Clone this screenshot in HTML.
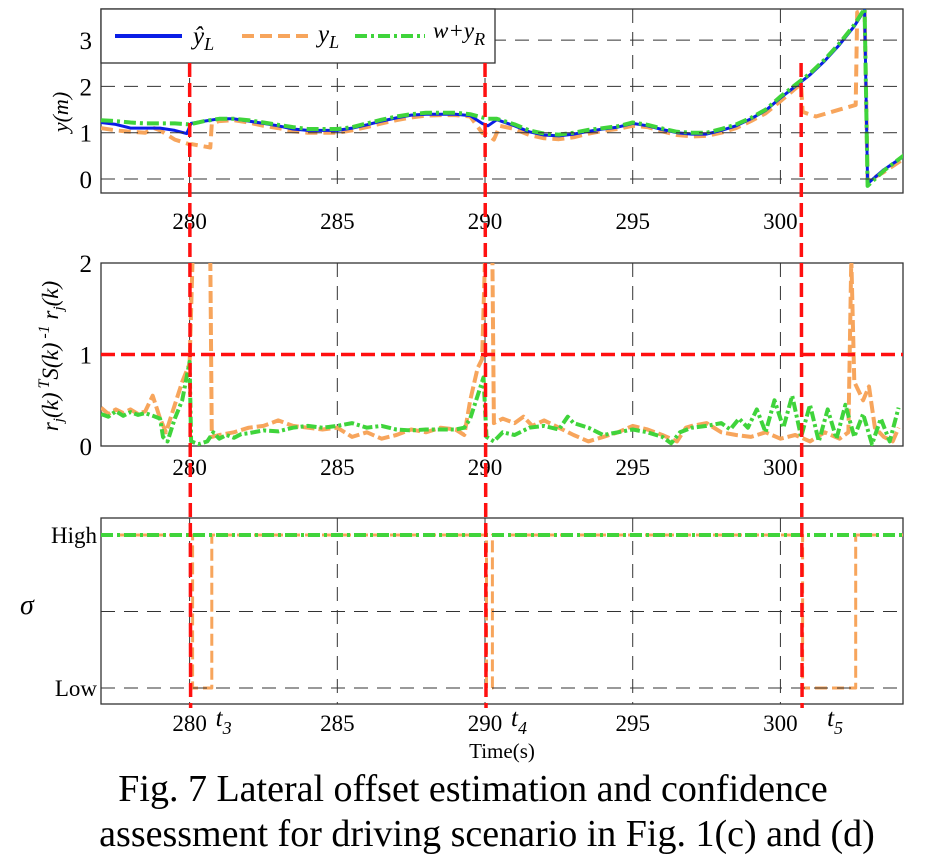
<!DOCTYPE html>
<html><head><meta charset="utf-8"><style>
body{margin:0;background:#fff}
svg text{font-family:"Liberation Serif",serif;fill:#000}
</style></head><body>
<svg id="fig" width="926" height="861" viewBox="0 0 926 861" xmlns="http://www.w3.org/2000/svg">
<defs>
<clipPath id="c1"><rect x="101" y="9" width="802" height="184"/></clipPath>
<clipPath id="c2"><rect x="101" y="263" width="802" height="183"/></clipPath>
<clipPath id="c3"><rect x="101" y="518" width="802" height="186"/></clipPath>
</defs>
<g id="p1"></g>
<g id="p2"></g>
<g id="p3"></g>
<g id="overlay"></g>
<text x="473" y="801" font-size="38" text-anchor="middle">Fig. 7 Lateral offset estimation and confidence</text>
<text x="487" y="846" font-size="38" text-anchor="middle">assessment for driving scenario in Fig. 1(c) and (d)</text>
</svg>
<script>
// ---- data ----
const xTicks=[280,285,290,295,300];
const y1Ticks=[0,1,2,3];
const y2Ticks=[0,1,2];
const eventTimes=[280,290,300.7];
const eventLabels=["3","4","5"];
// panel 1: lateral offset
const yhatT=[277,277.5,278,278.5,279,279.5,279.9,280.05,280.5,281,281.5,282,282.5,283,283.5,284,284.5,285,285.5,286,286.5,287,287.5,288,288.5,289,289.5,289.9,290.1,290.4,291,291.5,292,292.5,293,293.5,294,294.5,295,295.5,296,296.5,297,297.5,298,298.5,299,299.5,300,300.5,301,301.5,302,302.5,302.85,302.95,303.5,304.2];
const yhatV=[1.22,1.18,1.1,1.1,1.1,1.05,0.98,1.2,1.25,1.3,1.3,1.25,1.2,1.15,1.08,1.05,1.05,1.05,1.1,1.17,1.25,1.32,1.38,1.4,1.4,1.4,1.37,1.2,1.15,1.28,1.15,1.02,0.95,0.93,0.97,1.03,1.08,1.12,1.2,1.15,1.07,1.0,0.97,0.97,1.05,1.15,1.3,1.48,1.75,2.0,2.25,2.55,2.9,3.3,3.65,-0.1,0.2,0.5];
const greenT=[277,277.5,278,278.5,279,279.5,280,280.5,281,281.5,282,282.5,283,283.5,284,284.5,285,285.5,286,286.5,287,287.5,288,288.5,289,289.5,289.9,290.1,290.4,291,291.5,292,292.5,293,293.5,294,294.5,295,295.5,296,296.5,297,297.5,298,298.5,299,299.5,300,300.5,301,301.5,302,302.5,302.85,302.95,303.5,304.2];
const greenV=[1.27,1.25,1.22,1.2,1.2,1.2,1.18,1.25,1.3,1.3,1.27,1.22,1.17,1.12,1.08,1.08,1.08,1.12,1.2,1.28,1.35,1.4,1.43,1.43,1.43,1.4,1.33,1.3,1.3,1.18,1.05,0.98,0.96,1.0,1.06,1.1,1.14,1.22,1.17,1.09,1.02,1.0,1.0,1.08,1.18,1.32,1.5,1.78,2.03,2.28,2.58,2.93,3.33,3.68,-0.15,0.18,0.52];
const orangeT=[277,277.5,278,278.5,278.8,279,279.5,280,280.1,280.7,280.75,281,281.5,282,282.5,283,283.5,284,284.5,285,285.5,286,286.5,287,287.5,288,288.5,289,289.5,289.9,290.1,290.3,290.5,291,291.5,292,292.5,293,293.5,294,294.5,295,295.5,296,296.5,297,297.5,298,298.5,299,299.5,300,300.5,300.7,300.75,301.2,302,302.55,302.6,302.85,302.95,303.5,304.2];
const orangeV=[1.1,1.05,1.02,1.0,1.1,1.05,0.85,0.75,0.75,0.68,1.2,1.25,1.27,1.22,1.15,1.1,1.03,1.0,1.0,1.0,1.05,1.12,1.2,1.27,1.33,1.37,1.38,1.38,1.35,1.0,0.95,0.85,1.15,1.08,0.95,0.88,0.86,0.9,0.98,1.04,1.08,1.15,1.12,1.03,0.95,0.92,0.93,1.0,1.1,1.25,1.42,1.68,1.95,2.05,1.45,1.35,1.5,1.6,3.6,3.65,-0.05,0.15,0.45];
// panel 2: normalized innovation squared
const rgT=[277,277.25,277.5,277.75,278,278.25,278.5,278.75,279,279.1,279.25,279.5,279.75,280,280.05,280.3,280.6,280.8,281,281.25,281.5,281.75,282,282.5,283,283.5,284,284.5,285,285.5,286,286.5,287,287.5,288,288.5,289,289.3,289.5,289.75,289.95,290.05,290.3,290.6,291,291.5,292,292.5,292.8,293,293.5,294,294.5,295,295.5,296,296.3,296.6,297,297.5,298,298.3,298.6,298.9,299.2,299.5,299.8,300.1,300.4,300.7,301,301.3,301.6,301.9,302.2,302.5,302.8,303.1,303.4,303.7,304];
const rgV=[0.35,0.32,0.38,0.33,0.37,0.34,0.36,0.33,0.3,0.1,0.05,0.3,0.5,0.92,0.05,0.02,0.05,0.15,0.08,0.12,0.09,0.13,0.14,0.17,0.16,0.2,0.22,0.2,0.22,0.25,0.2,0.22,0.18,0.17,0.18,0.18,0.18,0.2,0.3,0.55,0.75,0.1,0.05,0.15,0.12,0.2,0.22,0.18,0.32,0.25,0.2,0.12,0.15,0.18,0.15,0.1,0.03,0.15,0.2,0.22,0.25,0.18,0.3,0.2,0.4,0.15,0.5,0.2,0.55,0.1,0.45,0.05,0.4,0.08,0.45,0.1,0.35,0.02,0.3,0.05,0.42];
const roT=[277,277.25,277.5,277.75,278,278.25,278.5,278.75,279,279.2,279.5,279.75,280,280.1,280.7,280.75,281,281.5,282,282.5,283,283.5,284,284.5,285,285.5,286,286.5,287,287.5,288,288.5,289,289.3,289.5,289.75,289.9,290,290.25,290.3,290.6,291,291.3,291.6,292,292.5,293,293.5,294,294.5,295,295.5,296,296.5,296.8,297,297.5,298,298.5,299,299.5,300,300.5,301,301.5,302,302.3,302.4,302.5,302.8,303,303.2,303.5,303.8,304];
const roV=[0.42,0.35,0.4,0.36,0.4,0.35,0.38,0.55,0.3,0.15,0.45,0.7,0.9,2.05,2.05,0.1,0.12,0.15,0.2,0.22,0.28,0.22,0.2,0.18,0.2,0.1,0.15,0.08,0.12,0.18,0.15,0.2,0.18,0.12,0.5,0.85,0.95,2.05,2.05,0.25,0.3,0.25,0.32,0.22,0.28,0.2,0.12,0.05,0.1,0.15,0.22,0.18,0.12,0.05,0.2,0.22,0.25,0.15,0.12,0.1,0.15,0.08,0.12,0.05,0.15,0.08,0.15,2.05,0.7,0.5,0.65,0.2,0.1,0.05,0.2];
// panel 3: confidence (1 = High, 0 = Low)
const sgT=[277,304.2];
const sgV=[1,1];
const soT=[277,280.1,280.1,280.75,280.75,290.05,290.05,290.25,290.25,300.75,300.75,302.55,302.55,304.2];
const soV=[1,1,0,0,1,1,0,0,1,1,0,0,1,1];

// ---- axes ----
const X0=101,X1=903,T0=277,T1=304.15;
const sx=t=>X0+(t-T0)*(X1-X0)/(T1-T0);
const sy1=v=>179-v*46.3;
const sy2=v=>446-v*91.5;
const sy3=v=>688-v*153;
const NS="http://www.w3.org/2000/svg";
function mk(parent,tag,attrs){const e=document.createElementNS(NS,tag);for(const k in attrs)e.setAttribute(k,attrs[k]);parent.appendChild(e);return e;}
function pts(T,V,sy){return T.map((t,i)=>sx(t).toFixed(1)+","+sy(V[i]).toFixed(1)).join(" ");}

const BLUE="#0a1ee6",ORANGE="#f7a55c",GREEN="#3fd43b",RED="#ff1010";

function panel(g,top,bot,clip){
  const fr=mk(g,'rect',{x:X0,y:top,width:X1-X0,height:bot-top,fill:'none',stroke:'#333','stroke-width':1.3});
  
  
  xTicks.forEach(t=>{
    const l=mk(g,'line',{x1:sx(t),x2:sx(t),y1:top,y2:bot,stroke:'#333','stroke-width':1,'stroke-dasharray':'14,9'});
    
    
  });
  const cg=mk(g,'g',{'clip-path':'url(#'+clip+')'});
  return cg;
}
function xLabels(g,y){
  xTicks.forEach(t=>{
    const tx=mk(g,'text',{x:sx(t),y:y,'font-size':23,'text-anchor':'middle'});tx.textContent=t;
    
    
  });
}
function series(g,T,V,sy,color,w,dash,name){
  const p=mk(g,'polyline',{points:pts(T,V,sy),fill:'none',stroke:color,'stroke-width':w,'stroke-dasharray':dash,'stroke-linejoin':'round'});
  
  
}

// panel 1
const p1=document.getElementById('p1');
const c1=panel(p1,9,193,'c1');
y1Ticks.forEach(v=>{
  const l=mk(p1,'line',{x1:X0,x2:X1,y1:sy1(v),y2:sy1(v),stroke:'#333','stroke-width':1,'stroke-dasharray':'14,9'});
  
  
  const tx=mk(p1,'text',{x:92,y:sy1(v)+9,'font-size':25,'text-anchor':'end'});tx.textContent=v;
  
  
});
series(c1,orangeT,orangeV,sy1,ORANGE,4,'12,6','series-yL');
series(c1,yhatT,yhatV,sy1,BLUE,3,'none','series-yhatL');
series(c1,greenT,greenV,sy1,GREEN,4,'12,4,3,4','series-w-plus-yR');
xLabels(p1,229);
const yl1=mk(p1,'text',{x:0,y:0,'font-size':22,'font-style':'italic',transform:'translate(68,112) rotate(-90)','text-anchor':'middle'});
yl1.textContent='y(m)';


// legend
const lg=mk(p1,'g',{});


mk(lg,'rect',{x:101,y:9,width:394,height:54,fill:'#fff',stroke:'#333','stroke-width':1.3});
mk(lg,'line',{x1:115,x2:182,y1:36,y2:36,stroke:BLUE,'stroke-width':4});
mk(lg,'line',{x1:242,x2:311,y1:36,y2:36,stroke:ORANGE,'stroke-width':4,'stroke-dasharray':'12,6'});
mk(lg,'line',{x1:355,x2:425,y1:36,y2:36,stroke:GREEN,'stroke-width':4,'stroke-dasharray':'12,4,3,4'});
const lt1=mk(lg,'text',{x:193,y:44,'font-size':25,'font-style':'italic'});lt1.innerHTML='ŷ<tspan font-size="18" dy="6">L</tspan>';


const lt2=mk(lg,'text',{x:318,y:42,'font-size':25,'font-style':'italic'});lt2.innerHTML='y<tspan font-size="18" dy="6">L</tspan>';


const lt3=mk(lg,'text',{x:433,y:38,'font-size':23,'font-style':'italic'});lt3.innerHTML='w+y<tspan font-size="18" dy="7">R</tspan>';



// panel 2
const p2=document.getElementById('p2');
const c2=panel(p2,263,446,'c2');
y2Ticks.forEach(v=>{
  const tx=mk(p2,'text',{x:92,y:sy2(v)+9,'font-size':25,'text-anchor':'end'});tx.textContent=v;
  
  
});
series(c2,roT,roV,sy2,ORANGE,4,'12,4','series-yL-nis');
series(c2,rgT,rgV,sy2,GREEN,4,'10,3,3,3','series-yR-nis');
const th=mk(p2,'line',{x1:X0,x2:X1,y1:sy2(1),y2:sy2(1),stroke:RED,'stroke-width':3.5,'stroke-dasharray':'14,6'});


xLabels(p2,475);
const yl2=mk(p2,'text',{x:0,y:0,'font-size':23,'font-style':'italic',transform:'translate(58,356) rotate(-90)','text-anchor':'middle'});
yl2.innerHTML='r<tspan font-size="15" dy="5">j</tspan><tspan dy="-5">(k)</tspan><tspan font-size="16" dy="-9"> T</tspan><tspan dy="9">S(k)</tspan><tspan font-size="16" dy="-9"> -1</tspan><tspan dy="9"> r</tspan><tspan font-size="15" dy="5">j</tspan><tspan dy="-5">(k)</tspan>';



// panel 3
const p3=document.getElementById('p3');
const c3=panel(p3,518,704,'c3');
[0,0.5].forEach(v=>{
  const l=mk(p3,'line',{x1:X0,x2:X1,y1:sy3(v),y2:sy3(v),stroke:'#333','stroke-width':1,'stroke-dasharray':'14,9'});
  
  
});
series(c3,soT,soV,sy3,ORANGE,3,'12,5','series-yL-confidence');
series(c3,sgT,sgV,sy3,GREEN,4,'12,4,3,4','series-yR-confidence');
[['High',1],['Low',0]].forEach(([s,v])=>{
  const tx=mk(p3,'text',{x:97,y:sy3(v)+8,'font-size':23,'text-anchor':'end'});tx.textContent=s;
  
  
});
const yl3=mk(p3,'text',{x:20,y:614,'font-size':28,'font-style':'italic'});yl3.textContent='σ';


xLabels(p3,731);
eventTimes.forEach((t,i)=>{
  const tx=mk(p3,'text',{x:sx(t)+26,y:726,'font-size':25,'font-style':'italic'});
  tx.innerHTML='t<tspan font-size="18" dy="8">'+eventLabels[i]+'</tspan>';
  
  
});
const xt=mk(p3,'text',{x:502,y:758,'font-size':21,'text-anchor':'middle'});xt.textContent='Time(s)';



// event markers
const ov=document.getElementById('overlay');
eventTimes.forEach(t=>{
  const l=mk(ov,'line',{x1:sx(t),x2:sx(t)+1,y1:63,y2:708,stroke:RED,'stroke-width':3.5,'stroke-dasharray':'14,6'});
  
  
});
</script>
</body></html>
